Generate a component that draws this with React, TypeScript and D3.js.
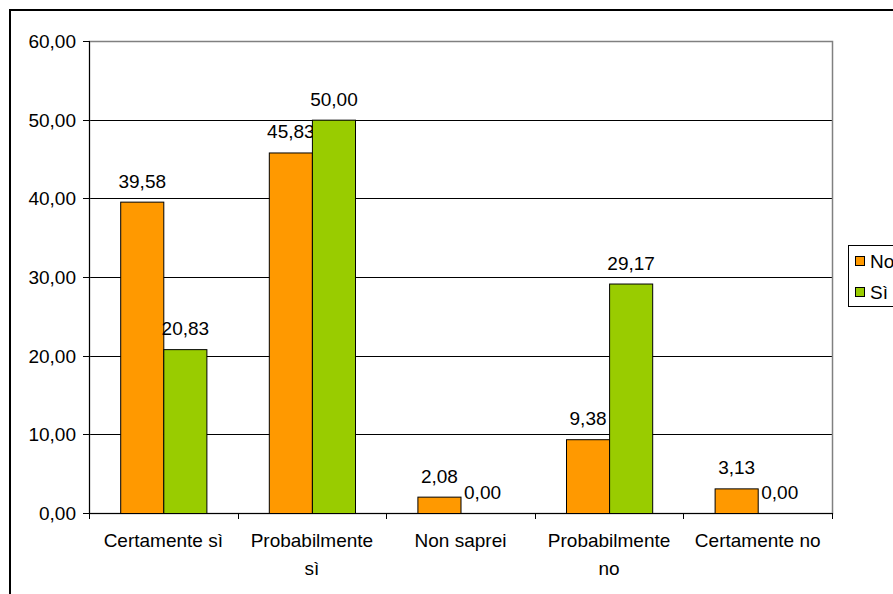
import React from 'react';
import * as d3 from 'd3';

const categories = ['Certamente sì', 'Probabilmente sì', 'Non saprei', 'Probabilmente no', 'Certamente no'];
const seriesNames = ['No', 'Sì'];
const noValues = [39.58, 45.83, 2.08, 9.38, 3.13];
const siValues = [20.83, 50.0, 0.0, 29.17, 0.0];
const yTicks = [0, 10, 20, 30, 40, 50, 60];
const colors = ['#ff9900', '#99cc00'];

const fmt = (v: number) => v.toFixed(2).replace('.', ',');

export default function App() {
    const W = 893;
    const H = 594;
    const left = 89;
    const right = 832;
    const top = 41;
    const bottom = 513;
    const fs = 19;

    const x = d3.scaleBand<string>().domain(categories).range([left, right]).paddingInner(0.42).paddingOuter(0.21);
    const x1 = d3.scaleBand<string>().domain(seriesNames).range([0, x.bandwidth()]);
    const y = d3.scaleLinear().domain([0, 60]).range([bottom, top]);
    const series = [noValues, siValues];
    const font = "'Liberation Sans', Arial, sans-serif";

    // category boundaries for tick marks
    const step = (right - left) / categories.length;
    const catTicks = d3.range(categories.length + 1).map((i) => left + i * step);

    return (
        <svg width={W} height={H} style={{ position: 'absolute', left: 0, top: 0 }} fontFamily={font}>
            <rect x={0} y={0} width={W} height={H} fill="#fff" />
            <rect x={10} y={10} width={W + 20} height={H + 20} fill="none" stroke="#000" strokeWidth={2} />

            {yTicks.filter((t) => t > 0 && t < 60).map((t) => (
                <line key={t} x1={left} x2={right} y1={Math.round(y(t)) + 0.5} y2={Math.round(y(t)) + 0.5} stroke="#000" />
            ))}
            <rect x={left + 0.5} y={top + 0.5} width={right - left} height={bottom - top} fill="none" stroke="#808080" strokeWidth={1.5} />

            {series.map((vals, si) =>
                vals.map((v, ci) => {
                    const bx = (x(categories[ci]) ?? 0) + (x1(seriesNames[si]) ?? 0);
                    const by = y(v);
                    return (
                        <g key={`${si}-${ci}`}>
                            {v > 0 && (
                                <rect x={bx + 0.5} y={by + 0.5} width={x1.bandwidth()} height={bottom - by} fill={colors[si]} stroke="#000" strokeWidth={1} />
                            )}
                            <text x={bx + x1.bandwidth() / 2 + 0.5} y={by - 14} textAnchor="middle" fontSize={fs} fill="#000">
                                {fmt(v)}
                            </text>
                        </g>
                    );
                })
            )}

            <line x1={left + 0.5} x2={left + 0.5} y1={top} y2={bottom + 1} stroke="#000" />
            <line x1={left} x2={right + 1} y1={bottom + 0.5} y2={bottom + 0.5} stroke="#000" />
            {yTicks.map((t) => (
                <g key={t}>
                    <line x1={left - 6} x2={left} y1={Math.round(y(t)) + 0.5} y2={Math.round(y(t)) + 0.5} stroke="#000" />
                    <text x={76} y={y(t) + 7} textAnchor="end" fontSize={fs} fill="#000">{fmt(t)}</text>
                </g>
            ))}
            {catTicks.map((cx, i) => (
                <line key={i} x1={Math.round(cx) + 0.5} x2={Math.round(cx) + 0.5} y1={bottom} y2={bottom + 6} stroke="#000" />
            ))}
            {categories.map((c) => {
                const cx = (x(c) ?? 0) + x.bandwidth() / 2;
                const words = c.split(' ');
                const lines = c.length > 14 ? [words[0], words.slice(1).join(' ')] : [c];
                return (
                    <text key={c} x={cx} textAnchor="middle" fontSize={fs} fill="#000">
                        {lines.map((l, i) => (
                            <tspan key={i} x={cx} y={547 + i * 28}>{l}</tspan>
                        ))}
                    </text>
                );
            })}

            <rect x={848.5} y={245.5} width={80} height={61} fill="#fff" stroke="#000" />
            {seriesNames.map((s, i) => (
                <g key={s}>
                    <rect x={855.5} y={256.5 + i * 31} width={9} height={9} fill={colors[i]} stroke="#000" />
                    <text x={870} y={268 + i * 31} fontSize={fs} fill="#000">{s}</text>
                </g>
            ))}
        </svg>
    );
}
